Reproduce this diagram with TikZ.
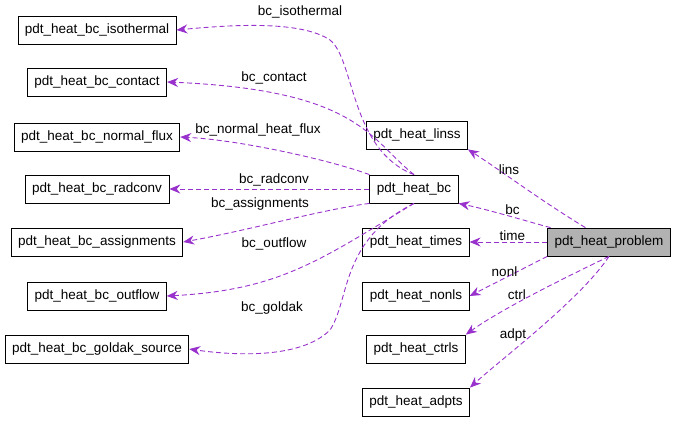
\documentclass[tikz,border=0pt]{standalone}
\usepackage{fontspec}
\setmainfont{Liberation Sans}
\usetikzlibrary{positioning}
\usetikzlibrary{arrows.meta}
\definecolor{edgepurple}{RGB}{153,50,204}
\begin{document}
\begin{tikzpicture}[x=1pt,y=-1pt,
                          classnode/.style={rectangle, draw, fill=white, line width=0.8pt, minimum height=28pt, inner xsep=7pt, font=\fontsize{13.5}{15}\selectfont},
                          mainnode/.style={classnode, fill=gray!60},
                          uses/.style={draw=edgepurple, dash pattern=on 5pt off 3pt, line width=0.9pt, -{Stealth[length=11pt,width=9pt,fill=edgepurple]}},
                          lbl/.style={font=\fontsize{13.5}{15}\selectfont, inner sep=1pt},
                      ]
                      \useasboundingbox (0,0) rectangle (677,424);
                      %Nodes
                      \node[classnode]      (iso)     at (97,30)    {pdt\_heat\_bc\_isothermal};
                      \node[classnode]      (contact) at (97,82)    {pdt\_heat\_bc\_contact};
                      \node[classnode]      (nflux)   at (97,137)   {pdt\_heat\_bc\_normal\_flux};
                      \node[classnode]      (radconv) at (97,189)   {pdt\_heat\_bc\_radconv};
                      \node[classnode]      (assign)  at (97,242)   {pdt\_heat\_bc\_assignments};
                      \node[classnode]      (outflow) at (97,296)   {pdt\_heat\_bc\_outflow};
                      \node[classnode]      (goldak)  at (97,349)   {pdt\_heat\_bc\_goldak\_source};
                      \node[classnode]      (bc)      at (414,189)  {pdt\_heat\_bc};
                      \node[classnode]      (linss)   at (417,135)  {pdt\_heat\_linss};
                      \node[classnode]      (times)   at (416,242)  {pdt\_heat\_times};
                      \node[classnode]      (nonls)   at (416,296)  {pdt\_heat\_nonls};
                      \node[classnode]      (ctrls)   at (416,349)  {pdt\_heat\_ctrls};
                      \node[classnode]      (adpts)   at (416,402)  {pdt\_heat\_adpts};
                      \node[mainnode]       (problem) at (609,242)  {pdt\_heat\_problem};

                      %Lines
                      \draw[uses] (problem) .. controls (540,200) and (500,170) .. (linss.south east);
                      \node[lbl] (linslbl) at (509,170) {lins};
                      \draw[uses] (problem) .. controls (540,225) and (490,210) .. (bc.south east) node[lbl, pos=0.5, above=1pt] {bc};
                      \draw[uses] (problem.west) -- (times.east) node[lbl, pos=0.45, above=0pt] {time};
                      \draw[uses] (problem.south west) -- (nonls.east) node[lbl, pos=0.55, above=0pt] {nonl};
                      \draw[uses] (problem.south) .. controls (560,280) and (500,310) .. (ctrls.north east) node[lbl, pos=0.6, above=2pt] {ctrl};
                      \draw[uses] (problem.south) .. controls (580,300) and (500,360) .. (adpts.north east) node[lbl, pos=0.55, left=4pt] {adpt};
                      \draw[uses] (bc.north) .. controls (350,150) and (355,60) .. (330,40) .. controls (300,20) and (230,25) .. (iso.east);
                      \node[lbl] (isolbl) at (300,12) {bc\_isothermal};
                      \draw[uses] (bc.north) .. controls (370,140) and (360,90) .. (contact.east);
                      \node[lbl] (contactlbl) at (274,78) {bc\_contact};
                      \draw[uses] (bc.north west) .. controls (330,160) and (240,140) .. (nflux.east);
                      \node[lbl] (nfluxlbl) at (258,130) {bc\_normal\_heat\_flux};
                      \draw[uses] (bc.west) -- (radconv.east);
                      \node[lbl] (radlbl) at (274,180) {bc\_radconv};
                      \draw[uses] (bc.south west) .. controls (320,210) and (250,230) .. (assign.east);
                      \node[lbl] (assignlbl) at (260,204) {bc\_assignments};
                      \draw[uses] (bc.south) .. controls (320,260) and (280,290) .. (outflow.east);
                      \node[lbl] (outflowlbl) at (274,244) {bc\_outflow};
                      \draw[uses] (bc.south) .. controls (340,240) and (350,300) .. (330,330) .. controls (300,360) and (230,355) .. (goldak.east);
                      \node[lbl] (goldaklbl) at (272,308) {bc\_goldak};
                  \end{tikzpicture}
\end{document}
